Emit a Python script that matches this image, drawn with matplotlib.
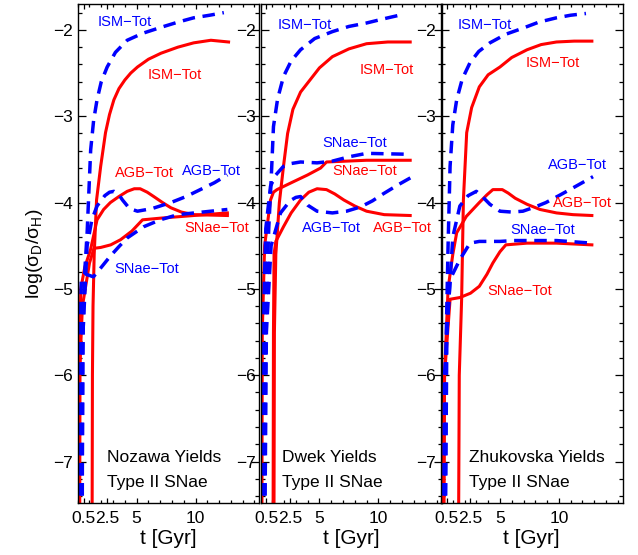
import matplotlib
matplotlib.use('Agg')

from matplotlib import pyplot as plt
from matplotlib.ticker import MultipleLocator, FixedLocator

plt.rcParams['font.family'] = ['Liberation Sans', 'DejaVu Sans']
plt.rcParams['mathtext.fontset'] = 'custom'
plt.rcParams['mathtext.rm'] = 'Liberation Sans'

# ---- Nozawa yields ----
noz_red_ism_t = [1.2, 1.25, 1.3, 1.4, 1.6, 1.95, 2.36, 2.7, 3.07, 3.5, 4.0, 4.5, 5.07, 6.0, 7.07, 8.5, 9.84, 11.3, 12.8]
noz_red_ism = [-9.0, -6.0, -5.2, -4.6, -3.97, -3.58, -3.19, -2.98, -2.81, -2.68, -2.58, -2.5, -2.43, -2.34, -2.27, -2.2, -2.15, -2.12, -2.14]
noz_blue_ism_t = [0.36, 0.42, 0.55, 0.8, 1.1, 1.35, 1.64, 2.0, 2.5, 3.2, 4.2, 5.5, 7.07, 8.5, 9.84, 11.2, 12.4]
noz_blue_ism = [-9.0, -5.8, -4.9, -4.35, -3.39, -3.05, -2.81, -2.6, -2.43, -2.26, -2.12, -2.04, -1.97, -1.91, -1.86, -1.83, -1.80]
noz_red_agb_t = [0.15, 0.2, 0.26, 0.6, 1.1, 1.64, 2.2, 2.77, 3.5, 4.2, 4.8, 5.3, 5.9, 6.45, 7.2, 7.9, 8.8, 9.84, 12.7]
noz_red_agb = [-9.0, -5.6, -5.0, -4.75, -4.54, -4.2, -4.08, -4.0, -3.93, -3.87, -3.84, -3.84, -3.88, -3.93, -4.0, -4.06, -4.11, -4.14, -4.15]
noz_blue_agb_t = [0.3, 0.45, 0.8, 1.2, 1.64, 2.3, 2.7, 3.07, 3.5, 3.8, 4.4, 5.07, 6.3, 7.9, 9.2, 10.4, 11.6, 12.7]
noz_blue_agb = [-9.0, -5.5, -4.5, -4.2, -4.04, -3.92, -3.88, -3.87, -3.91, -3.97, -4.07, -4.1, -4.07, -4.0, -3.93, -3.85, -3.77, -3.68]
noz_red_sn_t = [0.1, 0.15, 0.4, 1.0, 1.38, 1.95, 2.8, 3.64, 4.6, 5.5, 7.07, 9.84, 12.7]
noz_red_sn = [-9.0, -6.0, -5.2, -4.7, -4.53, -4.52, -4.49, -4.43, -4.33, -4.2, -4.18, -4.15, -4.12]
noz_blue_sn_t = [0.15, 0.22, 0.3, 0.7, 1.33, 2.0, 2.77, 3.5, 4.2, 5.6, 7.0, 8.5, 12.7]
noz_blue_sn = [-9.0, -5.5, -4.9, -4.83, -4.86, -4.75, -4.62, -4.51, -4.41, -4.28, -4.2, -4.14, -4.08]

# ---- Dwek yields ----
dwek_red_ism_t = [1.12, 1.18, 1.3, 1.6, 1.95, 2.3, 2.75, 3.4, 4.2, 5.0, 6.1, 7.5, 9.0, 10.8, 12.7]
dwek_red_ism = [-9.0, -5.5, -4.6, -4.0, -3.58, -3.2, -2.92, -2.72, -2.58, -2.44, -2.31, -2.22, -2.16, -2.14, -2.14]
dwek_blue_ism_t = [0.3, 0.4, 0.7, 0.9, 1.1, 1.45, 1.95, 2.6, 3.4, 4.6, 6.1, 7.5, 9.0, 10.5, 12.1]
dwek_blue_ism = [-9.0, -5.5, -4.3, -3.75, -3.12, -2.8, -2.54, -2.36, -2.23, -2.1, -2.02, -1.96, -1.92, -1.87, -1.82]
dwek_red_agb_t = [1.05, 1.1, 1.15, 1.3, 1.95, 2.6, 3.4, 4.1, 4.8, 5.6, 6.3, 7.07, 8.0, 9.0, 10.5, 12.7]
dwek_red_agb = [-9.0, -5.5, -4.6, -4.45, -4.28, -4.12, -3.97, -3.88, -3.84, -3.85, -3.9, -3.97, -4.04, -4.1, -4.14, -4.15]
dwek_blue_agb_t = [0.3, 0.5, 0.9, 1.7, 2.5, 3.0, 3.4, 4.0, 4.8, 6.1, 7.3, 8.5, 9.5, 10.4, 11.6, 12.9]
dwek_blue_agb = [-9.0, -5.5, -4.5, -4.12, -3.98, -3.94, -3.93, -4.03, -4.1, -4.12, -4.1, -4.05, -3.98, -3.9, -3.8, -3.7]
dwek_red_sn_t = [0.1, 0.15, 0.35, 0.85, 1.1, 1.4, 2.77, 4.0, 5.1, 5.6, 9.0, 12.7]
dwek_red_sn = [-9.0, -5.5, -4.5, -3.97, -3.88, -3.85, -3.76, -3.68, -3.6, -3.53, -3.51, -3.51]
dwek_blue_sn_t = [0.15, 0.22, 0.45, 0.85, 1.3, 1.95, 2.5, 3.4, 4.8, 6.1, 7.5, 9.0, 12.4]
dwek_blue_sn = [-9.0, -5.5, -4.3, -3.81, -3.68, -3.58, -3.55, -3.53, -3.54, -3.52, -3.47, -3.43, -3.44]

# ---- Zhukovska yields ----
zhu_red_ism_t = [1.45, 1.55, 1.75, 1.9, 2.18, 2.6, 3.25, 4.0, 5.0, 6.0, 7.3, 8.5, 9.8, 11.3, 12.8]
zhu_red_ism = [-9.0, -6.0, -5.12, -3.97, -3.19, -2.9, -2.66, -2.52, -2.43, -2.32, -2.23, -2.17, -2.14, -2.13, -2.13]
zhu_blue_ism_t = [0.3, 0.45, 0.6, 0.77, 1.0, 1.33, 1.8, 2.46, 3.2, 4.15, 5.5, 6.95, 8.3, 9.8, 11.0, 12.3]
zhu_blue_ism = [-9.0, -5.5, -4.5, -3.58, -3.1, -2.81, -2.57, -2.38, -2.25, -2.15, -2.05, -1.98, -1.91, -1.86, -1.83, -1.81]
zhu_red_agb_t = [0.2, 0.3, 0.6, 1.0, 1.33, 2.15, 3.25, 3.9, 4.4, 5.2, 5.7, 6.3, 7.3, 8.4, 9.8, 11.2, 12.8]
zhu_red_agb = [-9.0, -6.0, -5.0, -4.6, -4.35, -4.16, -4.0, -3.91, -3.85, -3.85, -3.89, -3.95, -4.02, -4.08, -4.12, -4.14, -4.15]
zhu_blue_agb_t = [0.3, 0.5, 1.0, 1.6, 2.3, 3.0, 3.5, 4.15, 5.0, 6.0, 6.95, 8.0, 8.9, 10.0, 11.2, 12.9]
zhu_blue_agb = [-9.0, -5.5, -4.4, -4.04, -3.92, -3.87, -3.93, -4.02, -4.1, -4.11, -4.1, -4.05, -4.0, -3.92, -3.83, -3.7]
zhu_red_sn_t = [0.15, 0.3, 0.77, 1.6, 2.5, 3.25, 3.9, 4.4, 5.0, 5.5, 7.3, 9.8, 12.8]
zhu_red_sn = [-9.0, -6.0, -5.12, -5.1, -5.05, -4.97, -4.83, -4.7, -4.57, -4.49, -4.47, -4.47, -4.49]
zhu_blue_sn_t = [0.15, 0.3, 0.77, 1.6, 2.46, 3.25, 5.0, 6.2, 9.8, 12.8]
zhu_blue_sn = [-9.0, -6.0, -4.89, -4.66, -4.47, -4.45, -4.45, -4.44, -4.44, -4.47]

panel_titles = ['Nozawa Yields', 'Dwek Yields', 'Zhukovska Yields']
xtick_vals = [0.5, 2.5, 5, 10]
xtick_labels = ['0.5', '2.5', '5', '10']

# label positions: (t, y, text, colour) per panel
noz_labels = [(4.0, -1.91, 'ISM\u2212Tot', 'b'), (8.25, -2.52, 'ISM\u2212Tot', 'r'),
              (5.7, -3.66, 'AGB\u2212Tot', 'r'), (11.35, -3.63, 'AGB\u2212Tot', 'b'),
              (11.8, -4.3, 'SNae\u2212Tot', 'r'), (5.85, -4.77, 'SNae\u2212Tot', 'b')]
dwek_labels = [(3.77, -1.94, 'ISM\u2212Tot', 'b'), (10.7, -2.46, 'ISM\u2212Tot', 'r'),
               (8.0, -3.31, 'SNae\u2212Tot', 'b'), (8.85, -3.64, 'SNae\u2212Tot', 'r'),
               (6.0, -4.29, 'AGB\u2212Tot', 'b'), (12.08, -4.29, 'AGB\u2212Tot', 'r')]
zhu_labels = [(3.73, -1.94, 'ISM\u2212Tot', 'b'), (9.5, -2.38, 'ISM\u2212Tot', 'r'),
              (11.6, -3.57, 'AGB\u2212Tot', 'b'), (12.0, -4.0, 'AGB\u2212Tot', 'r'),
              (8.65, -4.32, 'SNae\u2212Tot', 'b'), (6.7, -5.02, 'SNae\u2212Tot', 'r')]
title_x = [2.5, 1.83, 2.37]

red_sets = [
    [(noz_red_ism_t, noz_red_ism), (noz_red_agb_t, noz_red_agb), (noz_red_sn_t, noz_red_sn)],
    [(dwek_red_ism_t, dwek_red_ism), (dwek_red_agb_t, dwek_red_agb), (dwek_red_sn_t, dwek_red_sn)],
    [(zhu_red_ism_t, zhu_red_ism), (zhu_red_agb_t, zhu_red_agb), (zhu_red_sn_t, zhu_red_sn)],
]
blue_sets = [
    [(noz_blue_ism_t, noz_blue_ism), (noz_blue_agb_t, noz_blue_agb), (noz_blue_sn_t, noz_blue_sn)],
    [(dwek_blue_ism_t, dwek_blue_ism), (dwek_blue_agb_t, dwek_blue_agb), (dwek_blue_sn_t, dwek_blue_sn)],
    [(zhu_blue_ism_t, zhu_blue_ism), (zhu_blue_agb_t, zhu_blue_agb), (zhu_blue_sn_t, zhu_blue_sn)],
]
label_sets = [noz_labels, dwek_labels, zhu_labels]

W, H = 638, 555
fig = plt.figure(figsize=(W / 100, H / 100), dpi=100)
lefts = [77.7, 260.5, 441]
pw = 181.5
bottom_px, top_px = 503, 4

for i in range(3):
    ax = fig.add_axes([lefts[i] / W, (H - bottom_px) / H, pw / W, (bottom_px - top_px) / H], zorder=i)
    ax.patch.set_alpha(0)
    for t, y in red_sets[i]:
        ax.plot(t, y, color='#ff0000', lw=2.2, solid_joinstyle='round')
    for t, y in blue_sets[i]:
        ax.plot(t, y, color='#0000ff', lw=2.5, linestyle=(0, (3.6, 2.2)))
    for tx, ty, s, c in label_sets[i]:
        ax.text(tx, ty, s, color='#ff0000' if c == 'r' else '#0000ff', fontsize=10.5,
                ha='center', va='center')
    ax.text(title_x[i], -6.95, panel_titles[i], fontsize=12.5, ha='left', va='center')
    ax.text(title_x[i], -7.24, 'Type II SNae', fontsize=12.5, ha='left', va='center')

    ax.set_xlim(0, 15.4)
    ax.set_ylim(-7.48, -1.70)
    ax.xaxis.set_major_locator(FixedLocator(xtick_vals))
    ax.set_xticklabels(xtick_labels)
    ax.xaxis.set_minor_locator(MultipleLocator(1))
    ax.yaxis.set_major_locator(MultipleLocator(1))
    ax.yaxis.set_minor_locator(MultipleLocator(0.2))
    ax.tick_params(which='both', direction='in', top=True, right=True, labelsize=12.5, width=0.9)
    ax.tick_params(axis='y', which='major', length=5.8)
    ax.tick_params(axis='y', which='minor', length=2.9)
    ax.tick_params(axis='x', which='major', length=3.5, pad=6)
    ax.tick_params(axis='x', which='minor', length=2.2)
    for sp in ax.spines.values():
        sp.set_linewidth(1.0)
    ax.set_xlabel('t [Gyr]', fontsize=15, labelpad=2)
    if i == 0:
        ax.set_ylabel(r'log($\mathregular{\sigma_D/\sigma_H}$)', fontsize=14, labelpad=6)

plt.savefig('out.png', dpi=100)
